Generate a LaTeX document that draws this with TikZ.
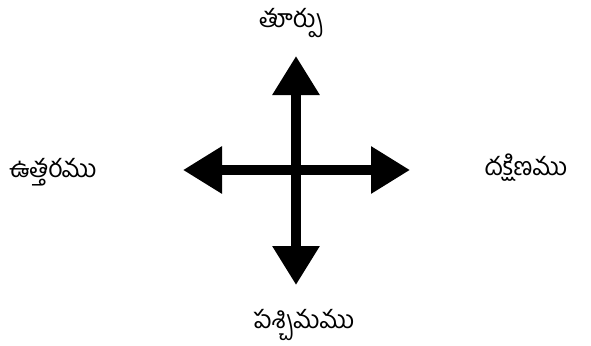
\documentclass[tikz,border=0pt]{standalone}
\usepackage{fontspec}
\newfontfamily\telugufont[Script=Telugu]{Hind Guntur}
\usetikzlibrary{arrows.meta}
\tikzset{
  lbl/.style={font=\telugufont\fontsize{25}{30}\selectfont, inner sep=0pt, text height=14pt, text depth=6pt},
  bigarrow/.style={line width=9.3pt, {Triangle[width=45pt,length=39pt]}-{Triangle[width=45pt,length=39pt]}}
}
\begin{document}
\begin{tikzpicture}[x=1pt,y=-1pt]
\useasboundingbox (0,0) rectangle (591,345);
\coordinate (top) at (296,56);
\coordinate (bot) at (296,285);
\coordinate (lft) at (183,170);
\coordinate (rgt) at (410,170);
\draw[bigarrow] (bot) -- (top);
\draw[bigarrow] (lft) -- (rgt);
\node[lbl] (east) at (291,24) {తూర్పు};
\node[lbl] (north) at (53,173) {ఉత్తరము};
\node[lbl] (south) at (526,171) {దక్షిణము};
\node[lbl] (west) at (304,324) {పశ్చిమము};
\end{tikzpicture}
\end{document}
